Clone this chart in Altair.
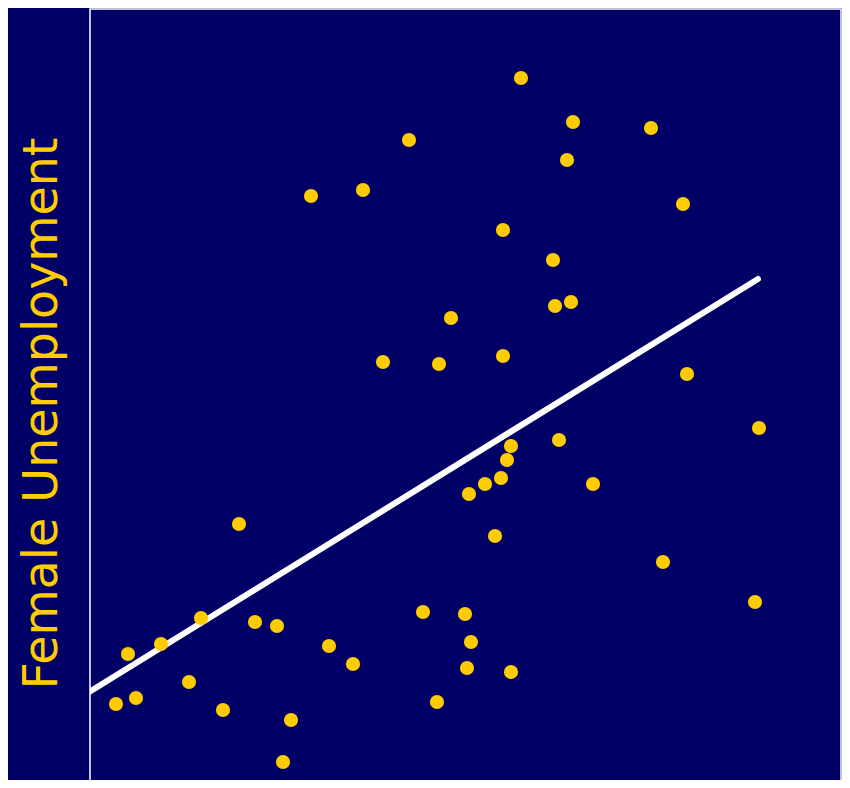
import altair as alt
import pandas as pd

# Scatter values (arbitrary units)
x_vals = [43.1, 48.3, 56.1, 31.9, 47.7, 27.3, 22.1, 59.3, 41.3, 46.3,
          48.1, 46.5, 36.1, 41.3, 29.3, 34.9, 59.7, 66.9, 46.9, 42.1,
          41.7, 41.1, 39.5, 50.3, 37.9, 40.5, 14.9, 57.3, 66.5, 33.3,
          37.5, 11.1, 16.5, 18.7, 38.1, 7.1, 23.9, 3.8, 26.3, 37.7,
          42.1, 9.9, 4.6, 2.6, 34.7, 13.3, 20.1, 19.3, 19.3]
y_vals = [74.1, 69.7, 69.1, 67.9, 65.9, 62.9, 62.3, 61.5, 58.9, 55.9,
          51.7, 51.3, 50.1, 46.3, 45.7, 45.5, 44.5, 39.1, 37.9, 37.3,
          35.9, 34.1, 33.5, 33.5, 32.5, 28.3, 29.5, 25.7, 21.7, 20.7,
          20.5, 20.1, 19.7, 19.3, 17.7, 17.5, 17.3, 16.5, 15.5, 15.1,
          14.7, 13.7, 12.1, 11.5, 11.7, 10.9, 9.9, 5.7, 3.1]

# Fitted trend line end points
fit_x = [0.0, 66.8]
fit_y = [12.75, 54.0]

x_domain = [0, 75.1]
y_domain = [0, 81.0]

pts = pd.DataFrame({"x": x_vals, "y": y_vals})
fit = pd.DataFrame({"x": fit_x, "y": fit_y})

xs = alt.Scale(domain=x_domain, nice=False, zero=False)
ys = alt.Scale(domain=y_domain, nice=False, zero=False)

y_axis = alt.Axis(
    title="Female Unemployment",
    labels=False, ticks=False, domain=False, grid=False,
    titleColor="#FFCC00", titleFont="DejaVu Sans", titleFontSize=47.5,
    titleFontWeight="normal", titleAngle=-90, titleAlign="center",
    titleBaseline="alphabetic", titleX=-34, titleY=404,
)

points = alt.Chart(pts).mark_circle(
    size=200, color="#FFCC00", opacity=1
).encode(
    x=alt.X("x:Q", scale=xs, axis=None),
    y=alt.Y("y:Q", scale=ys, axis=y_axis),
)

line = alt.Chart(fit).mark_line(
    color="white", strokeWidth=6, strokeCap="round", clip=True
).encode(
    x=alt.X("x:Q", scale=xs, axis=None),
    y=alt.Y("y:Q", scale=ys, axis=y_axis),
)

chart = alt.layer(line, points).properties(
    width=751, height=810, background="#000066",
    padding={"left": 82, "top": 1, "right": 1, "bottom": -39},
    autosize=alt.AutoSizeParams(type="none"),
).configure_view(
    stroke="white", strokeWidth=1.5, fill="#000066"
)

chart.save("out.html", embed_options={"renderer": "svg", "actions": False})
